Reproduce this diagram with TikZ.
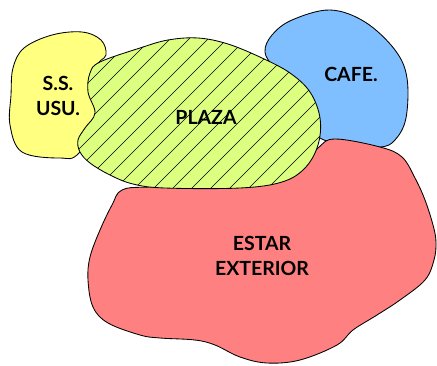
\documentclass[tikz,border=0pt]{standalone}
\usepackage{fontspec}
\setmainfont{Lato}
\definecolor{ycol}{RGB}{255,255,128}
\definecolor{bcol}{RGB}{128,191,255}
\definecolor{gcol}{RGB}{221,255,128}
\definecolor{rcol}{RGB}{255,128,128}
\begin{document}
\begin{tikzpicture}[x=1pt,y=-1pt,
  region/.style={draw=black,line width=0.85pt},
  lbl/.style={font=\fontsize{19.5}{24.5}\selectfont\bfseries,align=center,text=black,inner sep=0pt}]
\useasboundingbox (0,0) rectangle (437,365);
% yellow
\path[region,fill=ycol] plot[smooth cycle,tension=0.6] coordinates {
 (80,152) (60,158) (22,152) (10,125) (11,95) (13,68) (24,48) (52,35) (82,32) (101,40) (106,55) (97,68) (115,100)};
% blue
\path[region,fill=bcol] plot[smooth cycle,tension=0.6] coordinates {
 (275,70) (265,52) (272,35) (292,20) (330,10) (365,22) (395,50) (407,78) (406,118) (395,140) (380,147) (350,143) (320,138) (300,110)};
% red
\path[region,fill=rcol] plot[smooth cycle,tension=0.6] coordinates {
 (122,190) (150,187) (240,186) (295,172) (318,148) (335,139) (380,147) (402,157) (415,178) (425,200) (433,225) (436,242) (434,260) (425,280) (400,300) (377,315) (353,330) (337,345) (300,360) (267,363) (240,357) (215,345) (195,340) (160,338) (140,335) (108,323) (93,307) (88,280) (90,257) (100,230) (112,205)};
% plaza
\def\plazapath{plot[smooth cycle,tension=0.6] coordinates {
 (90,73) (88,92) (95,113) (85,128) (78,140) (80,152) (90,163) (110,175) (133,184) (165,188) (240,188) (282,182) (305,168) (318,145) (320,118) (310,92) (290,73) (262,58) (228,44) (198,38) (168,40) (140,48) (100,62)}}
\path[fill=gcol] \plazapath;
\begin{scope}
 \clip \plazapath;
 \foreach \i in {-200,-181,...,340} {
  \draw[line width=0.6pt] (\i,200) -- ++(200,-200);
 }
\end{scope}
\path[region] \plazapath;
% labels
\node[lbl] (ss) at (58,96) {S.S.\\USU.};
\node[lbl] (plaza) at (206,117) {PLAZA};
\node[lbl] (cafe) at (351,74) {CAFE.};
\node[lbl] (estar) at (262,256) {ESTAR\\EXTERIOR};
\end{tikzpicture}
\end{document}
